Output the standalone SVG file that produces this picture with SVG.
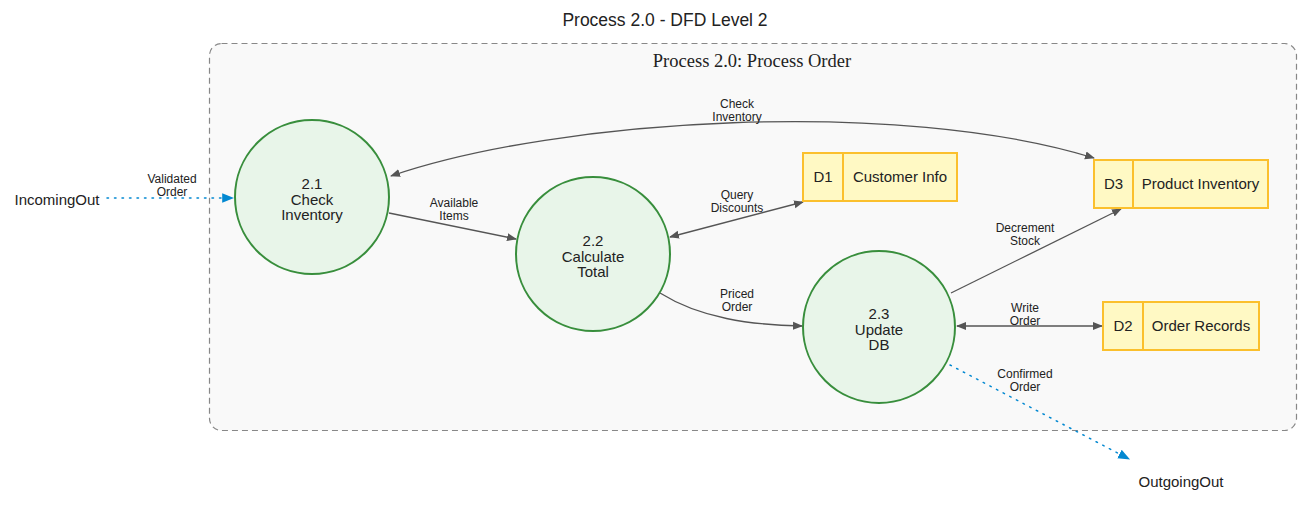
<svg xmlns="http://www.w3.org/2000/svg" width="1311" height="511" viewBox="0 0 1311 511">
<style>
.lbl{font-family:"Liberation Sans",Arial,sans-serif;font-size:12px;fill:#222;text-anchor:middle}
.nt{font-family:"Liberation Sans",Arial,sans-serif;font-size:15px;fill:#222;text-anchor:middle}
.proc{fill:#e8f5e9;stroke:#388e3c;stroke-width:2}
.store{fill:#fff9c4;stroke:#fbc02d;stroke-width:2}
.flow{fill:none;stroke:#555;stroke-width:1.3}
.ext{fill:none;stroke:#0288d1;stroke-width:1.5;stroke-dasharray:1.5 6;stroke-linecap:round}
</style>
<defs>
<marker id="a" viewBox="0 0 10 10" refX="9" refY="5" markerWidth="10" markerHeight="10" markerUnits="userSpaceOnUse" orient="auto-start-reverse"><path d="M0,1 L10,5 L0,9 z" fill="#555"/></marker>
<marker id="b" viewBox="0 0 10 10" refX="9" refY="5" markerWidth="12" markerHeight="12" markerUnits="userSpaceOnUse" orient="auto"><path d="M0,1 L10,5 L0,9 z" fill="#0288d1"/></marker>
</defs>
<rect width="1311" height="511" fill="#fff"/>
<text x="665" y="26" class="nt" style="font-size:17.5px">Process 2.0 - DFD Level 2</text>
<g id="cluster">
<rect x="209.5" y="43.5" width="1087" height="387" rx="12" fill="#f9f9f9" stroke="#888" stroke-width="1.2" stroke-dasharray="6 4"/>
<text x="752" y="67" style="font-family:'Liberation Serif','Times New Roman',serif;font-size:18.5px;fill:#222;text-anchor:middle">Process 2.0: Process Order</text>
</g>
<g id="connectors">
<path class="ext" d="M107,198 L233,198" marker-end="url(#b)"/>
<text class="lbl" x="172" y="183">Validated</text><text class="lbl" x="172" y="196">Order</text>
<path class="flow" d="M389,213 L516,239" marker-end="url(#a)"/>
<text class="lbl" x="454" y="207">Available</text><text class="lbl" x="454" y="220">Items</text>
<path class="flow" d="M391,176 C560,118 900,98 1094,158" marker-start="url(#a)" marker-end="url(#a)"/>
<text class="lbl" x="737" y="108">Check</text><text class="lbl" x="737" y="121">Inventory</text>
<path class="flow" d="M670,237 L803,202" marker-start="url(#a)" marker-end="url(#a)"/>
<text class="lbl" x="737" y="199">Query</text><text class="lbl" x="737" y="212">Discounts</text>
<path class="flow" d="M660,293 C700,318 750,325 802,326" marker-end="url(#a)"/>
<text class="lbl" x="737" y="298">Priced</text><text class="lbl" x="737" y="311">Order</text>
<path class="flow" d="M951,293 L1121,209" marker-end="url(#a)"/>
<text class="lbl" x="1025" y="232">Decrement</text><text class="lbl" x="1025" y="245">Stock</text>
<path class="flow" d="M957,326 L1102,326" marker-start="url(#a)" marker-end="url(#a)"/>
<text class="lbl" x="1025" y="312">Write</text><text class="lbl" x="1025" y="325">Order</text>
<path class="ext" d="M950,365 L1129,459" marker-end="url(#b)"/>
<text class="lbl" x="1025" y="378">Confirmed</text><text class="lbl" x="1025" y="391">Order</text>
</g>
<g id="IncomingOut"><text class="nt" x="57" y="205">IncomingOut</text></g>
<g id="OutgoingOut"><text class="nt" x="1181" y="487">OutgoingOut</text></g>
<g id="p21"><circle class="proc" cx="312" cy="197" r="77"/>
<text class="nt" x="312" y="189">2.1</text><text class="nt" x="312" y="205">Check</text><text class="nt" x="312" y="220">Inventory</text></g>
<g id="p22"><circle class="proc" cx="593" cy="254" r="77"/>
<text class="nt" x="593" y="246">2.2</text><text class="nt" x="593" y="262">Calculate</text><text class="nt" x="593" y="277">Total</text></g>
<g id="p23"><circle class="proc" cx="879" cy="327" r="76"/>
<text class="nt" x="879" y="319">2.3</text><text class="nt" x="879" y="335">Update</text><text class="nt" x="879" y="350">DB</text></g>
<g id="D1"><rect class="store" x="803" y="153" width="154" height="48"/><line x1="843" y1="153" x2="843" y2="201" stroke="#fbc02d" stroke-width="2"/>
<text class="nt" x="823" y="182">D1</text><text class="nt" x="900" y="182">Customer Info</text></g>
<g id="D3"><rect class="store" x="1094" y="160" width="174" height="48"/><line x1="1133" y1="160" x2="1133" y2="208" stroke="#fbc02d" stroke-width="2"/>
<text class="nt" x="1113.5" y="189">D3</text><text class="nt" x="1200.5" y="189">Product Inventory</text></g>
<g id="D2"><rect class="store" x="1103" y="302" width="156" height="48"/><line x1="1143" y1="302" x2="1143" y2="350" stroke="#fbc02d" stroke-width="2"/>
<text class="nt" x="1123" y="331">D2</text><text class="nt" x="1201" y="331">Order Records</text></g>
</svg>
